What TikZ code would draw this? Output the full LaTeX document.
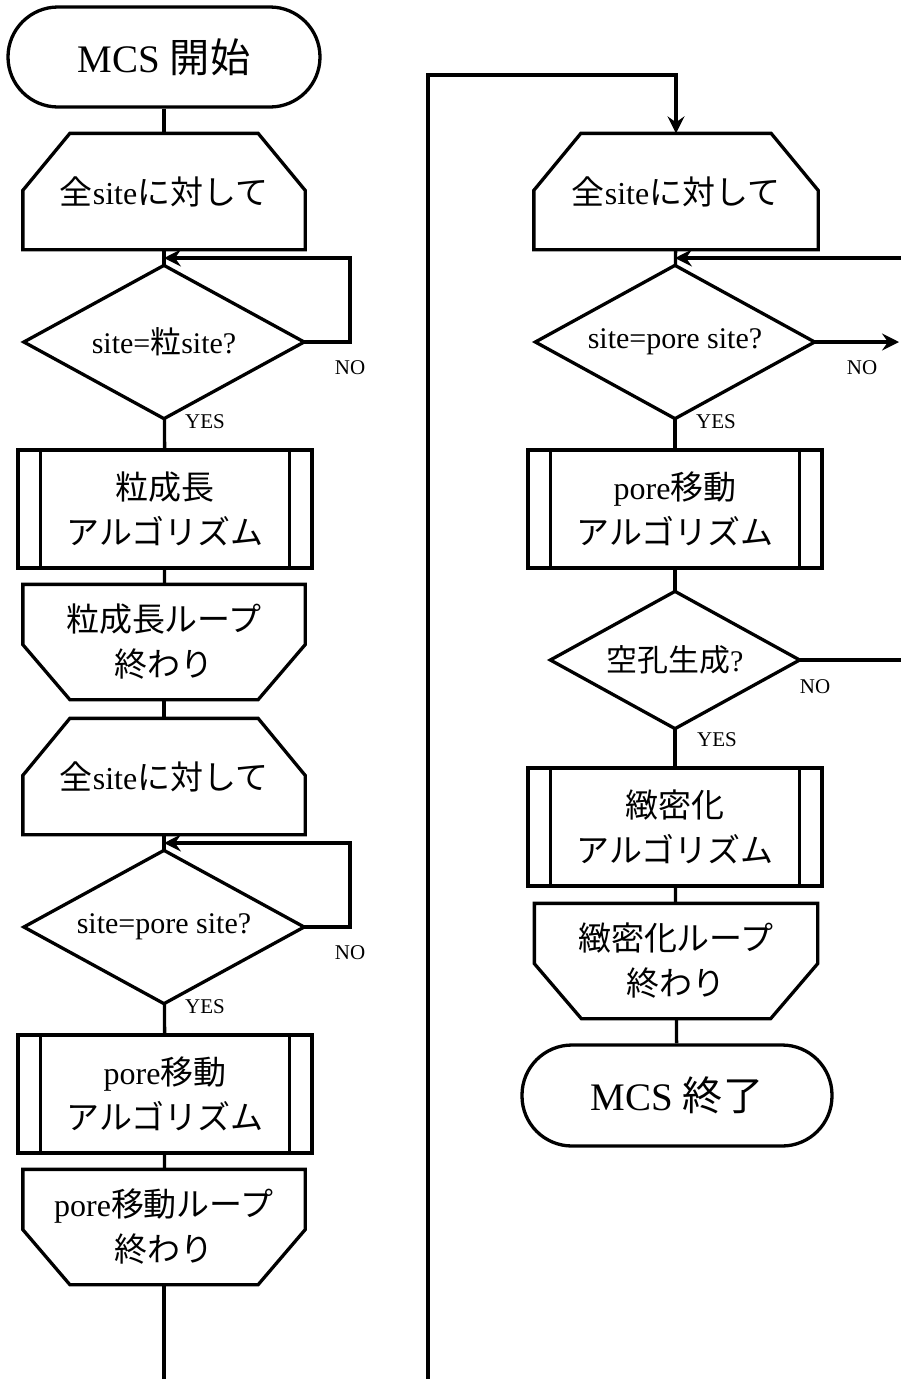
\documentclass[tikz,border=0pt]{standalone}
\usepackage{fontspec}
\setmainfont{Liberation Serif}
\newfontfamily\jp[Scale=1.03]{Noto Sans CJK JP}
\usetikzlibrary{arrows.meta,calc}
\newcommand\J[1]{{\jp #1}}
\newcommand\LpTop[1]{\draw (#1.south west) -- ($(#1.north west)+(0,57)$) -- ($(#1.north west)+(47,0)$) -- ($(#1.north east)+(-47,0)$) -- ($(#1.north east)+(0,57)$) -- (#1.south east) -- cycle;}
\newcommand\LpEnd[1]{\draw (#1.north west) -- ($(#1.south west)+(0,-55)$) -- ($(#1.south west)+(47,0)$) -- ($(#1.south east)+(-47,0)$) -- ($(#1.south east)+(0,-55)$) -- (#1.north east) -- cycle;}
\newcommand\Dmd[1]{\draw (#1.north) -- (#1.east) -- (#1.south) -- (#1.west) -- cycle;}
\newcommand\Proc[1]{\draw ($(#1.north west)+(24,0)$) -- ($(#1.south west)+(24,0)$); \draw ($(#1.north east)+(-24,0)$) -- ($(#1.south east)+(-24,0)$);}
\begin{document}
\begin{tikzpicture}[x=1pt,y=-1pt,line width=3.3pt,
  arr/.style={-{Stealth[length=17pt,width=17pt,inset=6pt]}},
  termbox/.style={draw,rounded corners=50pt,minimum width=312pt,minimum height=100pt,inner sep=0pt,font=\fontsize{39}{44}\selectfont},
  loopbox/.style={rectangle,minimum width=279pt,minimum height=113pt,inner sep=0pt,align=center,font=\fontsize{32}{45}\selectfont},
  procbox/.style={draw,rectangle,minimum width=294pt,minimum height=118pt,inner sep=0pt,align=center,font=\fontsize{32}{45}\selectfont},
  dmdbox/.style={rectangle,minimum width=277pt,minimum height=150pt,inner sep=0pt,align=center,font=\fontsize{30}{34}\selectfont},
  lbl/.style={font=\fontsize{21}{24}\selectfont,inner sep=0pt}]
\useasboundingbox (0,0) rectangle (900,1379);
% left column
\node[termbox] (start) at (164,57) {MCS \J{開始}};
\node[loopbox] (ls1) at (164,191.5) {\J{全}site\J{に対して}};
\node[dmdbox] (d1) at (164,342) {site=\J{粒}site?};
\node[procbox] (p1) at (165,509) {\J{粒成長}\\\J{アルゴリズム}};
\node[loopbox,minimum height=112pt] (le1) at (164,642) {\J{粒成長ループ}\\\J{終わり}};
\node[loopbox] (ls2) at (164,776.5) {\J{全}site\J{に対して}};
\node[dmdbox] (d2) at (164,927) {site=pore site?};
\node[procbox] (p2) at (165,1094) {pore\J{移動}\\\J{アルゴリズム}};
\node[loopbox,minimum height=112pt] (le2) at (164,1227) {pore\J{移動ループ}\\\J{終わり}};
\LpTop{ls1}\LpTop{ls2}\LpEnd{le1}\LpEnd{le2}
\Dmd{d1}\Dmd{d2}\Proc{p1}\Proc{p2}
\node[lbl] (no1) at (350,368) {NO};
\node[lbl] (yes1) at (205,422) {YES};
\node[lbl] (no2) at (350,953) {NO};
\node[lbl] (yes2) at (205,1007) {YES};
% right column
\node[loopbox,minimum width=281pt] (ls3) at (676,191.5) {\J{全}site\J{に対して}};
\node[dmdbox,minimum width=276pt] (d3) at (675,342) {site=pore site?};
\node[procbox] (p3) at (675,509) {pore\J{移動}\\\J{アルゴリズム}};
\node[dmdbox,minimum width=246pt,minimum height=134pt] (d4) at (675,660) {\J{空孔生成}?};
\node[procbox] (p4) at (675,827) {\J{緻密化}\\\J{アルゴリズム}};
\node[loopbox,minimum width=280pt,minimum height=112pt] (le3) at (676,961) {\J{緻密化ループ}\\\J{終わり}};
\node[termbox,minimum width=310pt,minimum height=101pt] (stop) at (677,1095.5) {MCS \J{終了}};
\LpTop{ls3}\LpEnd{le3}\Dmd{d3}\Dmd{d4}\Proc{p3}\Proc{p4}
\node[lbl] (no3) at (862,368) {NO};
\node[lbl] (yes3) at (716,422) {YES};
\node[lbl] (no4) at (815,687) {NO};
\node[lbl] (yes4) at (717,740) {YES};
% connectors left
\draw (start) -- (ls1);
\draw (ls1) -- (d1);
\draw (d1) -- (p1);
\draw (p1) -- (le1);
\draw (le1) -- (ls2);
\draw (ls2) -- (d2);
\draw (d2) -- (p2);
\draw (p2) -- (le2);
\coordinate (r1) at (350,258);
\coordinate (j1) at (164,258);
\draw[arr] (d1.east) -| (r1) -- (j1);
\coordinate (r2) at (350,843);
\coordinate (j2) at (164,843);
\draw[arr] (d2.east) -| (r2) -- (j2);
% link to right column
\coordinate (b1) at (164,1381);
\coordinate (b2) at (428,1381);
\coordinate (t1) at (428,75);
\draw[arr] (le2.south) -- (b1) -- (b2) -- (t1) -| (ls3.north);
% connectors right
\draw (ls3) -- (d3);
\draw (d3) -- (p3);
\draw (p3) -- (d4);
\draw (d4) -- (p4);
\draw (p4) -- (le3);
\draw (le3) -- (stop);
\coordinate (e3) at (899,342);
\draw[arr] (d3.east) -- (e3);
\coordinate (r3) at (905,258);
\coordinate (j3) at (675,258);
\draw[arr] (r3) -- (j3);
\coordinate (e4) at (905,660);
\draw (d4.east) -- (e4);
\end{tikzpicture}
\end{document}
